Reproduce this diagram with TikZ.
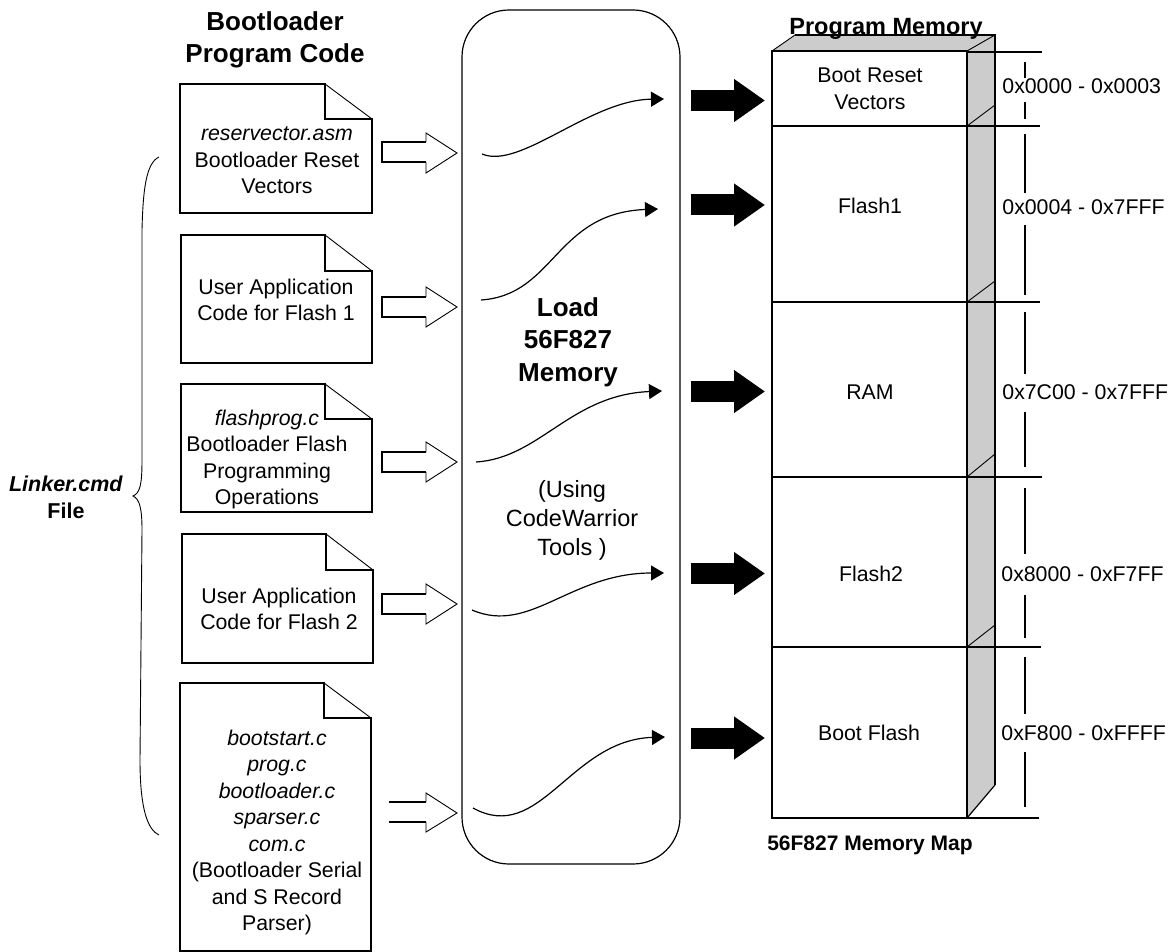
\documentclass[tikz,border=0pt]{standalone}
\usepackage{fontspec}
\setmainfont{Liberation Sans}
\usetikzlibrary{arrows.meta}
\newlength{\du}
\setlength{\du}{0.5pt}
\definecolor{sidegray}{rgb}{0.800000, 0.800000, 0.800000}
\tikzset{
  thickline/.style={line width=1.0pt},
  thinline/.style={line width=0.45pt},
  bodyline/.style={line width=0.6pt},
  bodytext/.style={inner sep=0pt, align=center, font=\fontsize{10.65}{13.25}\selectfont},
  loadtext/.style={inner sep=0pt, align=center, font=\fontsize{11.75}{14.5}\selectfont},
  titletext/.style={inner sep=0pt, align=center, font=\bfseries\fontsize{13}{16}\selectfont},
  curveline/.style={line width=0.6pt, -{Triangle[length=6.5pt,width=7.5pt]}},
  bigarrow/.style={line width=10.5pt, -{Triangle[length=15.5pt,width=20.5pt]}}
}

\begin{document}
\begin{tikzpicture}
\pgftransformxscale{1.000000}
\pgftransformyscale{-1.000000}
\useasboundingbox (0\du,0\du) rectangle (1173\du,952\du);
% source files
\draw[thickline] (325\du,119\du)--(325\du,84\du)--(180\du,84\du)--(180\du,213\du)--(372\du,213\du)--(372\du,119\du)--cycle;
\draw[thinline] (325\du,84\du)--(372\du,119\du);
\node[bodytext] (reservector) at (277\du,160.5\du){\textit{reservector.asm}\\Bootloader Reset\\Vectors};
\draw[thickline] (325\du,271\du)--(325\du,235\du)--(181\du,235\du)--(181\du,363\du)--(372\du,363\du)--(372\du,271\du)--cycle;
\draw[thinline] (325\du,235\du)--(372\du,271\du);
\node[bodytext] (userflasha) at (276\du,300\du){User Application\\Code for Flash 1};
\draw[thickline] (325\du,419\du)--(325\du,384\du)--(181\du,384\du)--(181\du,512\du)--(372\du,512\du)--(372\du,419\du)--cycle;
\draw[thinline] (325\du,384\du)--(372\du,419\du);
\node[bodytext] (flashprog) at (267\du,459.5\du){\textit{flashprog.c}\\Bootloader Flash\\Programming\\Operations};
\draw[thickline] (326\du,570\du)--(326\du,534\du)--(182\du,534\du)--(182\du,663\du)--(373\du,663\du)--(373\du,570\du)--cycle;
\draw[thinline] (326\du,534\du)--(373\du,570\du);
\node[bodytext] (userflashb) at (279\du,609\du){User Application\\Code for Flash 2};
\draw[thickline] (324\du,718\du)--(324\du,683\du)--(180\du,683\du)--(180\du,951\du)--(371\du,951\du)--(371\du,718\du)--cycle;
\draw[thinline] (324\du,683\du)--(371\du,718\du);
\node[bodytext] (bootstart) at (277\du,832.5\du){\textit{bootstart.c}\\\textit{prog.c}\\\textit{bootloader.c}\\\textit{sparser.c}\\\textit{com.c}\\(Bootloader Serial\\and S Record\\Parser)};
\node[titletext] (bootcode) at (275\du,39.5\du){Bootloader\\Program Code};
% linker brace
\node[inner sep=0pt, align=center, font=\bfseries\fontsize{10.75}{13.5}\selectfont] (linker) at (66\du,497\du){\textit{Linker.cmd}\\File};
\coordinate (bracetop) at (159\du,157\du);
\coordinate (bracetip) at (133\du,496\du);
\coordinate (bracebot) at (159\du,835\du);
\draw[thinline] (bracetop) .. controls (146\du,163\du) and (143\du,190\du) .. (142\du,230\du)--(142\du,460\du) .. controls (142\du,485\du) and (140\du,493\du) .. (bracetip) .. controls (140\du,499\du) and (142\du,510\du) .. (142\du,530\du)--(140\du,760\du) .. controls (140\du,810\du) and (148\du,830\du) .. (bracebot);
% hollow arrows
\draw[bodyline] (426\du,142\du)--(382\du,142\du)--(382\du,162\du)--(426\du,162\du);
\draw[thinline] (426\du,142\du)--(426\du,133\du)--(457\du,153\du)--(426\du,173\du)--(426\du,162\du);
\draw[bodyline] (426\du,297\du)--(382\du,297\du)--(382\du,317\du)--(426\du,317\du);
\draw[thinline] (426\du,297\du)--(426\du,287\du)--(457\du,307\du)--(426\du,327\du)--(426\du,317\du);
\draw[bodyline] (426\du,452\du)--(382\du,452\du)--(382\du,472\du)--(426\du,472\du);
\draw[thinline] (426\du,452\du)--(426\du,442\du)--(457\du,462\du)--(426\du,482\du)--(426\du,472\du);
\draw[bodyline] (426\du,594\du)--(382\du,594\du)--(382\du,614\du)--(426\du,614\du);
\draw[thinline] (426\du,594\du)--(426\du,584\du)--(457\du,604\du)--(426\du,624\du)--(426\du,614\du);
\draw[bodyline] (389\du,802\du)--(426\du,802\du);
\draw[bodyline] (389\du,822\du)--(426\du,822\du);
\draw[thinline] (426\du,802\du)--(426\du,793\du)--(457\du,813\du)--(426\du,832\du)--(426\du,822\du);
% load box
\node[draw, line width=0.6pt, rounded corners=23.5pt, minimum width=109pt, minimum height=427pt, inner sep=0pt] (loadbox) at (571\du,437\du){};
\node[titletext, font=\bfseries\fontsize{13}{16.25}\selectfont] (loadtitle) at (568\du,342\du){Load\\56F827\\Memory};
\node[loadtext] (cwtools) at (572\du,520\du){(Using\\CodeWarrior\\Tools )};
\coordinate (curveAin) at (482\du,154\du);
\coordinate (curveAout) at (664\du,99\du);
\draw[curveline] (curveAin) .. controls (520\du,170\du) and (590\du,100\du) .. (curveAout);
\coordinate (curveBin) at (481\du,300\du);
\coordinate (curveBout) at (658\du,209\du);
\draw[curveline] (curveBin) .. controls (555\du,295\du) and (555\du,213\du) .. (curveBout);
\coordinate (curveCin) at (476\du,462\du);
\coordinate (curveCout) at (662\du,391\du);
\draw[curveline] (curveCin) .. controls (540\du,458\du) and (570\du,395\du) .. (curveCout);
\coordinate (curveDin) at (472\du,610\du);
\coordinate (curveDout) at (664\du,573\du);
\draw[curveline] (curveDin) .. controls (530\du,635\du) and (570\du,573\du) .. (curveDout);
\coordinate (curveEin) at (473\du,808\du);
\coordinate (curveEout) at (665\du,737\du);
\draw[curveline] (curveEin) .. controls (540\du,845\du) and (570\du,740\du) .. (curveEout);
% solid arrows
\coordinate (bigAin) at (691\du,100.5\du);
\coordinate (bigAout) at (765\du,100.5\du);
\draw[bigarrow] (bigAin)--(bigAout);
\coordinate (bigBin) at (691\du,205\du);
\coordinate (bigBout) at (765\du,205\du);
\draw[bigarrow] (bigBin)--(bigBout);
\coordinate (bigCin) at (691\du,391.5\du);
\coordinate (bigCout) at (765\du,391.5\du);
\draw[bigarrow] (bigCin)--(bigCout);
\coordinate (bigDin) at (691\du,573.5\du);
\coordinate (bigDout) at (765\du,573.5\du);
\draw[bigarrow] (bigDin)--(bigDout);
\coordinate (bigEin) at (691\du,738\du);
\coordinate (bigEout) at (765\du,738\du);
\draw[bigarrow] (bigEin)--(bigEout);
% memory block
\fill[sidegray] (772\du,51\du)--(795\du,35\du)--(995\du,35\du)--(995\du,785\du)--(967\du,818\du)--(967\du,51\du)--cycle;
\draw[thickline] (795\du,35\du)--(995\du,35\du)--(995\du,785\du);
\draw[thinline] (772\du,51\du)--(795\du,35\du);
\draw[thinline] (967\du,51\du)--(995\du,35\du);
\draw[line width=0.6pt] (967\du,818\du)--(995\du,785\du);
\draw[thickline, fill=white] (772\du,51\du) rectangle (967\du,818\du);
\draw[thinline] (967\du,126\du)--(995\du,105\du);
\draw[thinline] (967\du,302\du)--(995\du,281\du);
\draw[thinline] (967\du,477\du)--(995\du,454\du);
\draw[thinline] (967\du,647\du)--(995\du,625\du);
\draw[thickline] (967\du,52\du)--(1042\du,52\du);
\draw[thickline] (772\du,126\du)--(1040\du,126\du);
\draw[thickline] (772\du,302\du)--(1040\du,302\du);
\draw[thickline] (772\du,477\du)--(1042\du,477\du);
\draw[thickline] (772\du,647\du)--(1041\du,647\du);
\draw[thickline] (967\du,818\du)--(1039\du,818\du);
\node[titletext, font=\bfseries\fontsize{11.75}{14}\selectfont] (memtitle) at (886\du,29\du){Program Memory};
\node[bodytext] (bootreset) at (870\du,89\du){Boot Reset\\Vectors};
\node[bodytext] (flasha) at (870\du,206\du){Flash1};
\node[bodytext] (ram) at (870\du,392\du){RAM};
\node[bodytext] (flashb) at (871\du,574\du){Flash2};
\node[bodytext] (bootflash) at (869\du,733\du){Boot Flash};
\node[bodytext, font=\bfseries\fontsize{10.5}{13.25}\selectfont] (memmap) at (870\du,845\du){56F827 Memory Map};
% address ranges
\draw[thickline] (1025\du,62\du)--(1025\du,78\du);
\draw[thickline] (1025\du,102\du)--(1025\du,119\du);
\draw[thickline] (1025\du,134\du)--(1025\du,193\du);
\draw[thickline] (1025\du,225\du)--(1025\du,295\du);
\draw[thickline] (1025\du,312\du)--(1025\du,374\du);
\draw[thickline] (1025\du,412\du)--(1025\du,467\du);
\draw[thickline] (1025\du,488\du)--(1025\du,554\du);
\draw[thickline] (1025\du,595\du)--(1025\du,638\du);
\draw[thickline] (1025\du,657\du)--(1025\du,714\du);
\draw[thickline] (1025\du,752\du)--(1025\du,807\du);
\node[bodytext, anchor=west] (addrboot) at (1002\du,86\du){0x0000 - 0x0003};
\node[bodytext, anchor=west] (addrflasha) at (1002\du,207\du){0x0004 - 0x7FFF};
\node[bodytext, anchor=west] (addrram) at (1002\du,392\du){0x7C00 - 0x7FFF};
\node[bodytext, anchor=west] (addrflashb) at (1001\du,574\du){0x8000 - 0xF7FF};
\node[bodytext, anchor=west] (addrbootflash) at (1001\du,733\du){0xF800 - 0xFFFF};
\end{tikzpicture}
\end{document}
